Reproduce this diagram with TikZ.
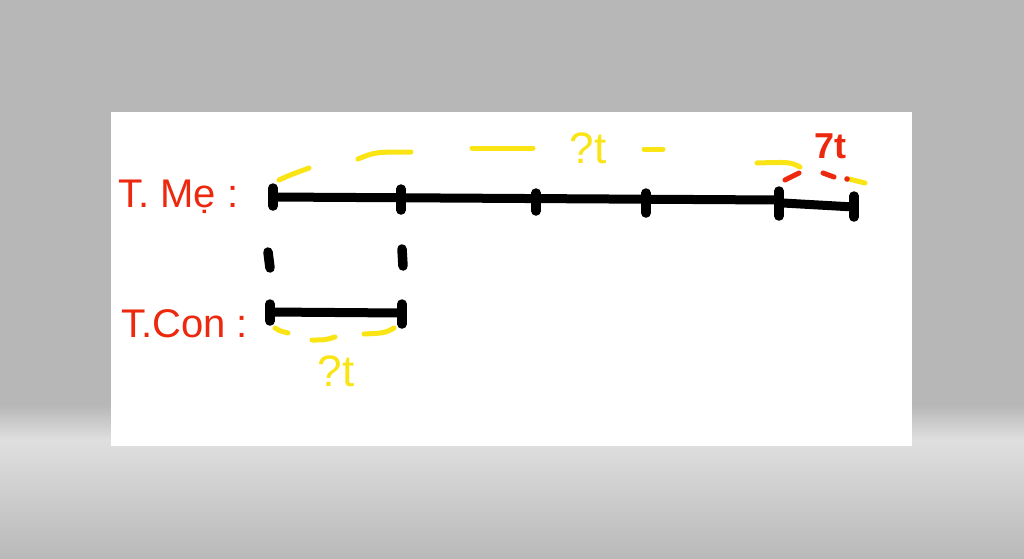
\documentclass[tikz,border=0pt]{standalone}
\usepackage{fontspec}
\setmainfont{Liberation Sans}
\definecolor{hr}{RGB}{236,40,14}
\definecolor{hy}{RGB}{250,228,20}
\definecolor{bgA}{RGB}{182,183,182}
\definecolor{bgB}{RGB}{222,223,222}
\definecolor{bgC}{RGB}{184,185,184}
\begin{document}
\begin{tikzpicture}[x=1pt,y=-1pt,
  blk/.style={line width=9pt, line cap=round, black},
  tickmark/.style={line width=9.5pt, line cap=round, black},
  ylw/.style={line width=5pt, line cap=round, draw=hy},
  rdd/.style={line width=5pt, line cap=round, draw=hr},
  lbl/.style={text=hr, inner sep=0pt, anchor=base west, font=\fontsize{40}{40}\selectfont},
  yq/.style={text=hy, inner sep=0pt, font=\fontsize{44}{44}\selectfont},
]
\useasboundingbox (0,0) rectangle (1024,558);
% background
\fill[bgA] (0,0) rectangle (1024,405);
\shade[top color=bgA, bottom color=bgB] (0,405) rectangle (1024,440);
\shade[top color=bgB, bottom color=bgC] (0,440) rectangle (1024,558);
\fill[white] (111,112) rectangle (912,446);

% labels
\node[lbl] (tme) at (118,207) {T. Mẹ :};
\node[lbl] (tcon) at (121,337) {T.Con :};

% main line (T. Me)
\coordinate (m0) at (273,197);
\coordinate (m1) at (401,198);
\coordinate (m2) at (536,199);
\coordinate (m3) at (646,199);
\coordinate (m4) at (779,200);
\coordinate (m4b) at (783,203);
\coordinate (m5) at (854,207);
\draw[blk] (m0) -- (m4);
\draw[blk] (m4b) -- (m5);
\draw[tickmark] (273,188) -- (273,206);
\draw[tickmark] (401,189) -- (401,210);
\draw[tickmark] (536,193) -- (536,211);
\draw[tickmark] (646,193) -- (646,213);
\draw[tickmark] (779,191) -- (779,216);
\draw[tickmark] (854,196) -- (854,217);

% vertical dashes
\draw[tickmark] (268,252) -- (270,268);
\draw[tickmark] (402,249) -- (403,266);

% lower line (T.Con)
\coordinate (c0) at (270,312);
\coordinate (c1) at (402,313);
\draw[blk] (c0) -- (c1);
\draw[tickmark] (270,304) -- (270,321);
\draw[tickmark] (402,304) -- (402,324);

% yellow brace top
\draw[ylw] (279,180) .. controls (290,175) .. (309,168);
\draw[ylw] (358,159) .. controls (375,152) .. (411,152);
\draw[ylw] (472,148) -- (533,148);
\draw[ylw] (644,149) -- (663,149);
\draw[ylw] (757,163) .. controls (790,162) .. (800,167);
\draw[ylw] (849,179) -- (865,183);
\node[yq] (q1) at (588,148) {?t};

% red part
\draw[rdd] (785,180) -- (799,173);
\draw[rdd] (823,173) -- (834,177);
\fill[hr] (847,179) circle (2.8pt);
\node[text=hr, inner sep=0pt, font=\bfseries\fontsize{36}{36}\selectfont] (s7) at (830,146) {7t};

% yellow brace bottom
\draw[ylw] (275,328) .. controls (280,331) .. (288,333);
\draw[ylw] (312,340) .. controls (325,340) .. (335,337);
\draw[ylw] (364,334) .. controls (385,333) .. (394,328);
\node[yq] (q2) at (336,371) {?t};
\end{tikzpicture}
\end{document}
